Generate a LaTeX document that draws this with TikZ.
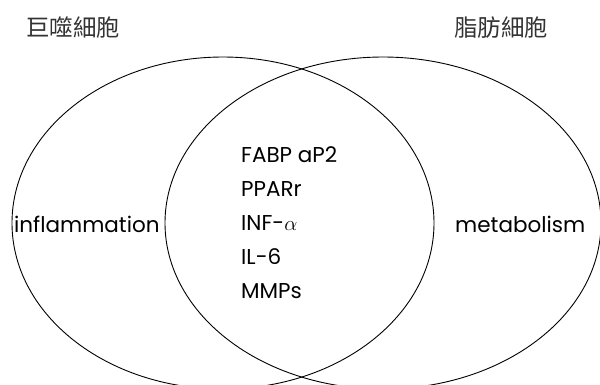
\documentclass[tikz,border=0pt]{standalone}
\usepackage{fontspec}
\setmainfont{Poppins}
\newfontfamily\cjk{Noto Sans CJK TC}
\usetikzlibrary{shapes.geometric}

\begin{document}
\begin{tikzpicture}[x=1pt,y=-1pt,
  set/.style={draw,ellipse,line width=0.9pt,inner sep=0pt},
  lbl/.style={anchor=base west,inner sep=0pt,font=\fontsize{21.5}{26}\selectfont},
  cell/.style={anchor=base west,inner sep=0pt,text=black!80,font=\cjk\fontsize{23.5}{28}\selectfont}]
  \useasboundingbox (0,0) rectangle (600,384);
  \clip (0,0) rectangle (600,384);

  \node (macro) at (223,223) [set,minimum width=422pt,minimum height=332pt] {};
  \node (adipo) at (383,223) [set,minimum width=436pt,minimum height=332pt] {};

  \node (m) at (26,36) [cell] {巨噬細胞};
  \node (f) at (454,36) [cell] {脂肪細胞};

  \node (infl) at (14,232) [lbl] {inflammation};
  \node (meta) at (455,232) [lbl] {metabolism};

  \node (fabp) at (241,162) [lbl] {FABP aP2};
  \node (ppar) at (241,196) [lbl] {PPARr};
  \node (inf) at (241,230) [lbl] {INF-$\alpha$};
  \node (il) at (241,264) [lbl] {IL-6};
  \node (mmp) at (241,298) [lbl] {MMPs};
\end{tikzpicture}
\end{document}
